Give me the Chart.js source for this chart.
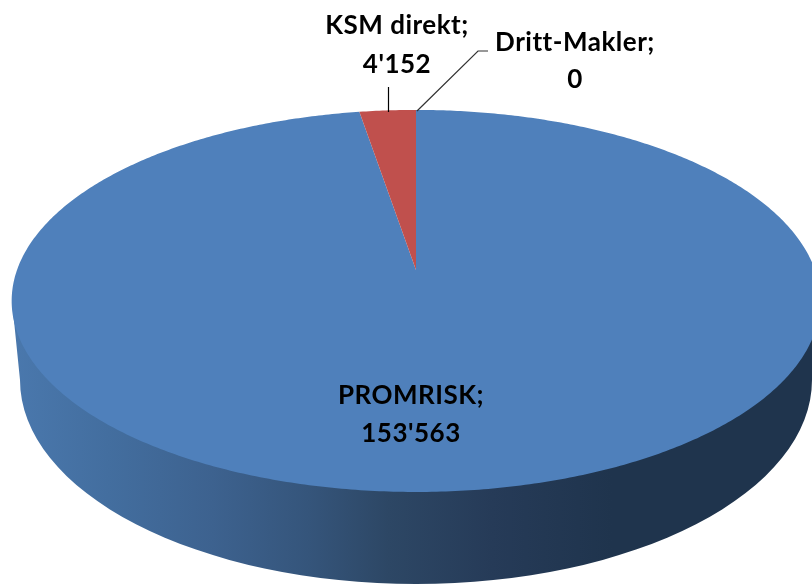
<!DOCTYPE html>
<html><head><meta charset="utf-8">
<style>html,body{margin:0;padding:0;background:#fff;overflow:hidden}#w{width:812px;height:585px}</style>
<script src="https://cdn.jsdelivr.net/npm/chart.js@4"></script>
</head><body><div id="w"><canvas id="c" width="812" height="585"></canvas></div>
<script>
const categories = ['PROMRISK', 'KSM direkt', 'Dritt-Makler'];
const seriesValues = [153563, 4152, 0];
const sliceColors = ['#4f80bb', '#c0504d', '#9bbb59'];
const labelLines = [
  {x:411, y1:404, y2:442},
  {x:397, y1:34, y2:73},
  {x:575, y1:51, y2:88}
];
const fmt = v => String(v).replace(/\B(?=(\d{3})+(?!\d))/g, "'");

// perspective of the pie's top face
const AX = 416, AY = 270, RX = 399, RY = 186, P = -0.162;
function project(a) {
  const u = Math.cos(a), v = Math.sin(a), w = 1 + P * v;
  return [AX + RX * u / w, AY + RY * v / w];
}
const pie3d = {
  id: 'pie3d',
  beforeDatasetsDraw(chart) {
    const ctx = chart.ctx, arcs = chart.getDatasetMeta(0).data;
    ctx.save();
    // side wall
    const g = ctx.createLinearGradient(12, 0, 812, 0);
    [[0,'#4a78ad'],[0.12,'#436e9f'],[0.25,'#3d628f'],[0.37,'#35557b'],[0.47,'#2d4765'],
     [0.6,'#263b58'],[0.75,'#1f344d'],[1,'#1f344d']].forEach(s => g.addColorStop(s[0], s[1]));
    ctx.beginPath();
    ctx.moveTo(12, 301);
    ctx.lineTo(20, 380);
    ctx.ellipse(416, 380, 396, 204, 0, Math.PI, 0, true);
    ctx.lineTo(820, 301);
    ctx.closePath();
    ctx.fillStyle = g;
    ctx.fill();
    // top face: one wedge per arc element
    arcs.forEach((arc, i) => {
      const p = arc.getProps(['startAngle', 'endAngle']);
      if (p.endAngle - p.startAngle < 1e-4) return;
      ctx.beginPath();
      ctx.moveTo(AX, AY);
      const n = Math.ceil((p.endAngle - p.startAngle) / 0.01);
      for (let k = 0; k <= n; k++) {
        const q = project(p.startAngle + (p.endAngle - p.startAngle) * k / n);
        ctx.lineTo(q[0], q[1]);
      }
      ctx.closePath();
      ctx.fillStyle = sliceColors[i];
      ctx.fill();
    });
    // leader lines
    ctx.lineWidth = 1.2;
    ctx.strokeStyle = '#000';
    ctx.beginPath(); ctx.moveTo(388.5, 87); ctx.lineTo(388.5, 112); ctx.stroke();
    ctx.strokeStyle = '#333';
    ctx.beginPath(); ctx.moveTo(488, 51); ctx.lineTo(478, 51); ctx.lineTo(417, 111); ctx.stroke();
    // labels
    ctx.fillStyle = '#000';
    ctx.font = 'bold 26px Lato';
    ctx.letterSpacing = '0.5px';
    ctx.textAlign = 'center';
    ctx.textBaseline = 'alphabetic';
    categories.forEach((c, i) => {
      const l = labelLines[i];
      ctx.fillText(c + ';', l.x, l.y1);
      ctx.fillText(fmt(seriesValues[i]), l.x, l.y2);
    });
    ctx.restore();
    return false;
  }
};
new Chart(document.getElementById('c'), {
  type: 'pie',
  data: { labels: categories, datasets: [{ data: seriesValues, backgroundColor: sliceColors, borderWidth: 0 }] },
  options: {
    responsive: false, animation: false,
    plugins: { legend: { display: false }, tooltip: { enabled: false } }
  },
  plugins: [pie3d]
});
</script></body></html>
